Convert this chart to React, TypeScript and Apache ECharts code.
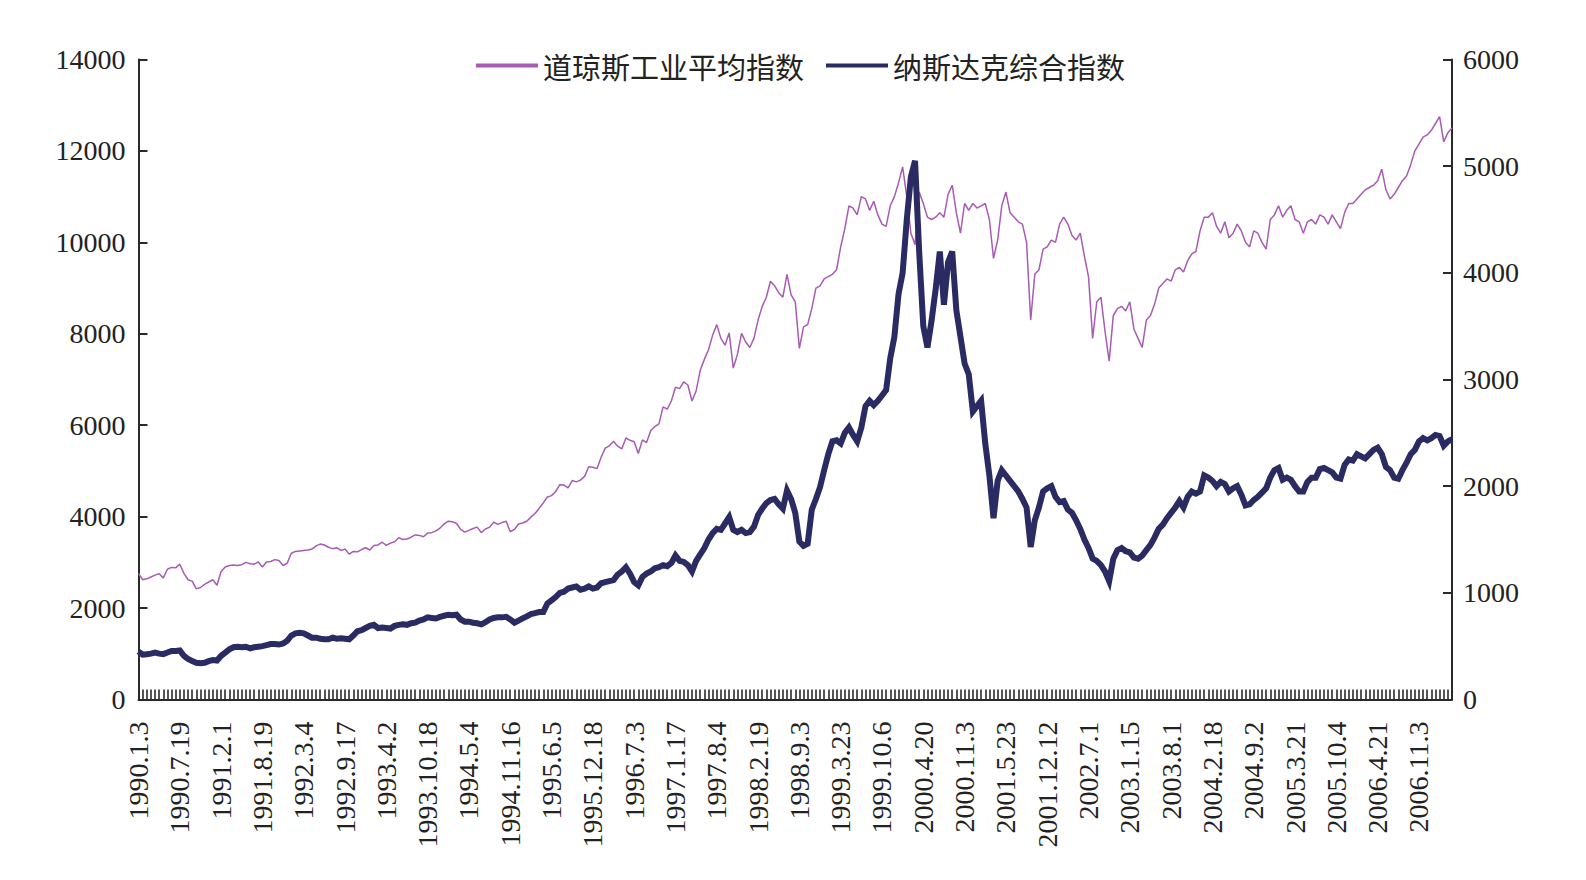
import React, { useEffect, useRef } from "react";
import * as echarts from "echarts";

// Date labels shown every 10 sampling steps along the x axis
const tickLabels = [
  "1990.1.3", "1990.7.19", "1991.2.1", "1991.8.19", "1992.3.4", "1992.9.17",
  "1993.4.2", "1993.10.18", "1994.5.4", "1994.11.16", "1995.6.5", "1995.12.18",
  "1996.7.3", "1997.1.17", "1997.8.4", "1998.2.19", "1998.9.3", "1999.3.23",
  "1999.10.6", "2000.4.20", "2000.11.3", "2001.5.23", "2001.12.12", "2002.7.1",
  "2003.1.15", "2003.8.1", "2004.2.18", "2004.9.2", "2005.3.21", "2005.10.4",
  "2006.4.21", "2006.11.3",
];

// 道琼斯工业平均指数 (left axis)
const dowValues = [
  2760, 2620, 2640, 2680, 2720, 2750, 2660, 2850, 2890, 2880,
  2960, 2760, 2620, 2590, 2420, 2450, 2520, 2570, 2620, 2500,
  2800, 2900, 2930, 2940, 2930, 2950, 3000, 2970, 2960, 3010,
  2900, 3010, 3020, 3060, 3040, 2930, 2980, 3200, 3240, 3250,
  3260, 3270, 3290, 3360, 3400, 3380, 3330, 3300, 3320, 3260,
  3290, 3180, 3240, 3230, 3280, 3320, 3270, 3370, 3380, 3440,
  3370, 3420, 3450, 3540, 3500, 3510, 3550, 3600, 3590, 3560,
  3640, 3650, 3690, 3750, 3840, 3900, 3890, 3850, 3720, 3660,
  3700, 3740, 3770, 3650, 3730, 3770, 3880, 3830, 3870, 3900,
  3670, 3720, 3840, 3860, 3900, 3990, 4070, 4180, 4300, 4430,
  4460, 4550, 4700, 4690, 4630, 4790, 4760, 4800, 4880, 5090,
  5080, 5050, 5300, 5500, 5550, 5650, 5540, 5480, 5720, 5670,
  5640, 5380, 5680, 5620, 5880, 5970, 6030, 6400, 6350, 6530,
  6830, 6800, 6950, 6880, 6530, 6750, 7200, 7440, 7650, 7970,
  8200, 7900, 7750, 8020, 7250, 7550, 8010, 7820, 7700, 7900,
  8300, 8600, 8800, 9150, 9050, 8900, 8800, 9300, 8850, 8700,
  7680, 8150, 8200, 8550, 9000, 9050, 9200, 9250, 9300, 9400,
  9900, 10300, 10800, 10750, 10600, 11000, 10950, 10700, 10900, 10600,
  10400, 10350, 10800, 11000, 11300, 11650, 11000, 10200, 9950, 11100,
  10850, 10550, 10500, 10550, 10650, 10550, 11050, 11250, 10650, 10200,
  10850, 10700, 10850, 10750, 10800, 10850, 10500, 9650, 10050, 10800,
  11100, 10650, 10550, 10450, 10400, 10000, 8300, 9300, 9400, 9850,
  9900, 10050, 10000, 10400, 10550, 10400, 10150, 10050, 10200, 9700,
  9250, 7900, 8700, 8800, 8050, 7400, 8400, 8550, 8600, 8500,
  8700, 8100, 7900, 7700, 8300, 8400, 8650, 9000, 9100, 9200,
  9150, 9400, 9450, 9350, 9600, 9750, 9800, 10250, 10550, 10550,
  10650, 10350, 10200, 10450, 10100, 10200, 10400, 10250, 10000, 9900,
  10250, 10200, 10000, 9850, 10500, 10600, 10800, 10550, 10700, 10800,
  10500, 10450, 10200, 10450, 10500, 10400, 10600, 10550, 10400, 10600,
  10450, 10300, 10650, 10850, 10850, 10950, 11050, 11150, 11200, 11250,
  11350, 11600, 11150, 10950, 11050, 11200, 11350, 11450, 11700, 12000,
  12150, 12300, 12350, 12450, 12600, 12750, 12200, 12400, 12500,
];

// 纳斯达克综合指数 (right axis)
const nasdaqValues = [
  450, 420, 425, 430, 440, 430, 425, 440, 455, 455,
  460, 410, 380, 360, 345, 340, 345, 360, 370, 365,
  410, 440, 470, 490, 495, 490, 495, 480, 490, 495,
  500, 510, 520, 520, 515, 525, 550, 600, 620, 625,
  620, 600, 580, 580, 570, 565, 565, 580, 570, 575,
  570, 565, 600, 640, 650, 670, 690, 700, 670, 675,
  670, 665, 690, 700, 705, 700, 715, 720, 740, 750,
  770, 765, 760, 775, 785, 795, 790, 795, 750, 730,
  730, 720, 715, 705, 725, 750, 765, 770, 770, 775,
  750, 720, 740, 760, 780, 800, 810, 820, 820, 900,
  930, 960, 1000, 1010, 1040, 1050, 1060, 1030, 1040, 1060,
  1040, 1050, 1090, 1100, 1110, 1120, 1170, 1200, 1240, 1180,
  1100, 1070, 1150, 1180, 1200, 1230, 1240, 1260, 1250, 1280,
  1350, 1300, 1290, 1260, 1200, 1300, 1360, 1420, 1500, 1560,
  1600, 1590, 1650, 1710, 1590, 1570, 1590, 1560, 1570, 1620,
  1730, 1790, 1840, 1870, 1880, 1830, 1790, 1960, 1880, 1750,
  1480, 1440, 1460, 1780, 1880, 1990, 2150, 2300, 2420, 2430,
  2400, 2500, 2550, 2480, 2420, 2550, 2750, 2800, 2760, 2800,
  2850, 2900, 3200, 3400, 3800, 4000, 4500, 4900, 5050, 4200,
  3500, 3300, 3550, 3850, 4200, 3700, 4100, 4200, 3650, 3400,
  3150, 3050, 2700, 2750, 2800, 2400, 2100, 1700, 2050, 2150,
  2100, 2050, 2000, 1950, 1880, 1800, 1430, 1680, 1800, 1950,
  1980, 2000, 1900, 1850, 1860, 1780, 1750, 1680, 1600, 1500,
  1420, 1320, 1300, 1260, 1200, 1110, 1320, 1400, 1420, 1390,
  1380, 1330, 1320, 1350, 1400, 1450, 1520, 1600, 1640, 1700,
  1750, 1800, 1860, 1800, 1900, 1950, 1930, 1950, 2100, 2080,
  2050, 2000, 2040, 2020, 1950, 1980, 2000, 1920, 1820, 1830,
  1870, 1900, 1940, 1980, 2080, 2150, 2170, 2060, 2080, 2060,
  2000, 1950, 1950, 2040, 2080, 2080, 2160, 2170, 2150, 2130,
  2080, 2070, 2200, 2250, 2240, 2300, 2280, 2260, 2300, 2340,
  2360, 2300, 2180, 2150, 2080, 2070, 2150, 2220, 2300, 2340,
  2420, 2450, 2430, 2450, 2480, 2470, 2380, 2420, 2440,
];

const LABEL_STEP = 10;
const categories = dowValues.map((_, i) =>
  i % LABEL_STEP === 0 && tickLabels[i / LABEL_STEP] ? tickLabels[i / LABEL_STEP] : "#" + i
);

const SERIF = "'Liberation Serif', 'Times New Roman', 'DejaVu Serif', serif";
const CJK = "'Noto Sans CJK SC', 'Noto Sans', sans-serif";
const AXIS_COLOR = "#2a2a2a";
const DOW_COLOR = "#a85bb2";
const NASDAQ_COLOR = "#2b2b63";

export default function App() {
  const ref = useRef<HTMLDivElement>(null);

  useEffect(() => {
    if (!ref.current) return;
    const chart = echarts.init(ref.current, undefined, { renderer: "svg" });
    const axisLabelBase = { fontFamily: SERIF, fontSize: 28, color: "#222" };
    const plainNumber = (v: number) => String(v);
    chart.setOption({
      animation: false,
      backgroundColor: "#ffffff",
      legend: {
        top: 46,
        left: 471,
        itemWidth: 62,
        itemHeight: 4,
        itemGap: 22,
        icon: "rect",
        textStyle: { fontFamily: CJK, fontSize: 29, color: "#222", padding: [0, 0, 0, 0] },
        data: ["道琼斯工业平均指数", "纳斯达克综合指数"],
      },
      grid: { left: 138.5, right: 134, top: 59.5, bottom: 180.5 },
      xAxis: {
        type: "category",
        data: categories,
        boundaryGap: false,
        axisLine: { lineStyle: { color: AXIS_COLOR, width: 2 } },
        axisTick: {
          show: true,
          inside: true,
          length: 10,
          interval: 0,
          lineStyle: { color: AXIS_COLOR, width: 1.6 },
        },
        axisLabel: {
          ...axisLabelBase,
          interval: LABEL_STEP - 1,
          rotate: 90,
          margin: 22,
          formatter: (v: string) => (v.startsWith("#") ? "" : v),
        },
        splitLine: { show: false },
      },
      yAxis: [
        {
          type: "value",
          min: 0,
          max: 14000,
          interval: 2000,
          position: "left",
          axisLine: { show: true, lineStyle: { color: AXIS_COLOR, width: 2 } },
          axisTick: { show: true, inside: true, length: 9, lineStyle: { color: AXIS_COLOR, width: 2 } },
          axisLabel: { ...axisLabelBase, margin: 13, formatter: plainNumber },
          splitLine: { show: false },
        },
        {
          type: "value",
          min: 0,
          max: 6000,
          interval: 1000,
          position: "right",
          axisLine: { show: true, lineStyle: { color: AXIS_COLOR, width: 2 } },
          axisTick: { show: true, inside: true, length: 9, lineStyle: { color: AXIS_COLOR, width: 2 } },
          axisLabel: { ...axisLabelBase, margin: 11, formatter: plainNumber },
          splitLine: { show: false },
        },
      ],
      series: [
        {
          name: "道琼斯工业平均指数",
          type: "line",
          yAxisIndex: 0,
          data: dowValues,
          showSymbol: false,
          symbol: "none",
          lineStyle: { color: DOW_COLOR, width: 1.5 },
          itemStyle: { color: DOW_COLOR },
          z: 3,
        },
        {
          name: "纳斯达克综合指数",
          type: "line",
          yAxisIndex: 1,
          data: nasdaqValues,
          showSymbol: false,
          symbol: "none",
          lineStyle: { color: NASDAQ_COLOR, width: 6, join: "miter" },
          itemStyle: { color: NASDAQ_COLOR },
          z: 4,
        },
      ],
    });
    return () => chart.dispose();
  }, []);

  return (
    <div
      ref={ref}
      style={{ position: "fixed", left: 0, top: 0, width: 1586, height: 880, background: "#fff" }}
    />
  );
}
